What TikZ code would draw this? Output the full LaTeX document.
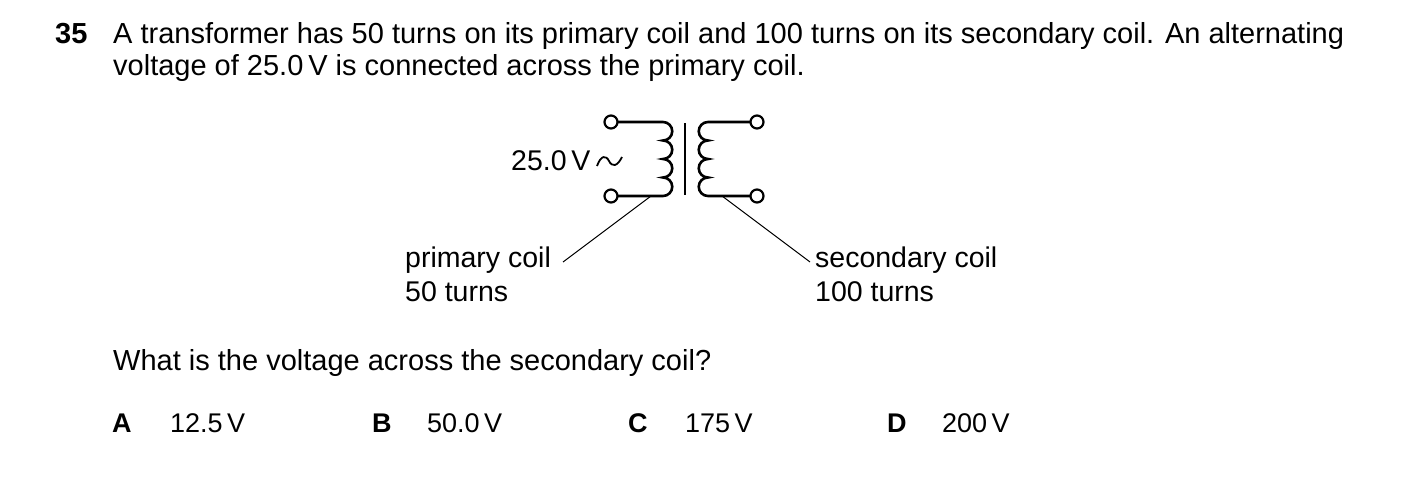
\documentclass[tikz,border=0pt]{standalone}
\usepackage{fontspec}
\setmainfont{Liberation Sans}
\begin{document}
\begin{tikzpicture}[x=1pt,y=1pt,
  wire/.style={line width=2.6pt},
  term/.style={circle,draw,line width=2.2pt,fill=white,minimum size=13pt,inner sep=0pt},
  lead/.style={line width=1pt},
  txt/.style={anchor=base west,inner sep=0pt,font=\fontsize{29}{34}\selectfont},
  lab/.style={anchor=base west,inner sep=0pt,font=\fontsize{28.5}{34}\selectfont},
  ans/.style={anchor=base west,inner sep=0pt,font=\fontsize{27}{32}\selectfont}]
\useasboundingbox (0,0) rectangle (1403,-488);
\node[txt,font=\fontsize{29}{34}\selectfont\bfseries] (n) at (55,-43) {35};
\node[txt] (l1) at (113,-43) {A transformer has 50 turns on its primary coil and 100 turns on its secondary coil. An alternating};
\node[txt] (l2) at (113,-75) {voltage of 25.0\,V is connected across the primary coil.};
\draw[wire] (611,-122) -- (663,-122)
  arc[start angle=90,end angle=-90,radius=9.25] arc[start angle=90,end angle=-90,radius=9.25]
  arc[start angle=90,end angle=-90,radius=9.25] arc[start angle=90,end angle=-90,radius=9.25]
  -- (611,-196);
\draw[wire] (685,-123) -- (685,-195);
\draw[wire] (757,-122) -- (708,-122)
  arc[start angle=90,end angle=270,radius=9.25] arc[start angle=90,end angle=270,radius=9.25]
  arc[start angle=90,end angle=270,radius=9.25] arc[start angle=90,end angle=270,radius=9.25]
  -- (757,-196);
\node[term] (t1) at (611,-122) {};
\node[term] (t2) at (611,-196) {};
\node[term] (t3) at (757,-122) {};
\node[term] (t4) at (757,-196) {};
\node[lab] (v) at (511,-170) {25.0\,V};
\draw[line width=1.8pt] (597,-166) .. controls (601,-155) and (606,-155) .. (609,-161) .. controls (612,-167) and (617,-167) .. (622,-157);
\coordinate (p1) at (651,-196);
\coordinate (p2) at (563,-262);
\coordinate (s1) at (722,-196);
\coordinate (s2) at (810,-262);
\draw[lead] (p1) -- (p2);
\draw[lead] (s1) -- (s2);
\node[lab] (pc) at (405,-267) {primary coil};
\node[lab] (pt) at (405,-301) {50 turns};
\node[lab] (sc) at (815,-267) {secondary coil};
\node[lab] (st) at (815,-301) {100 turns};
\node[txt] (q) at (113,-370) {What is the voltage across the secondary coil?};
\node[ans,font=\fontsize{27}{32}\selectfont\bfseries] (a) at (112,-432) {A};
\node[ans] (av) at (170,-432) {12.5\,V};
\node[ans,font=\fontsize{27}{32}\selectfont\bfseries] (b) at (372,-432) {B};
\node[ans] (bv) at (427,-432) {50.0\,V};
\node[ans,font=\fontsize{27}{32}\selectfont\bfseries] (c) at (628,-432) {C};
\node[ans] (cv) at (685,-432) {175\,V};
\node[ans,font=\fontsize{27}{32}\selectfont\bfseries] (d) at (887,-432) {D};
\node[ans] (dv) at (942,-432) {200\,V};
\end{tikzpicture}
\end{document}
